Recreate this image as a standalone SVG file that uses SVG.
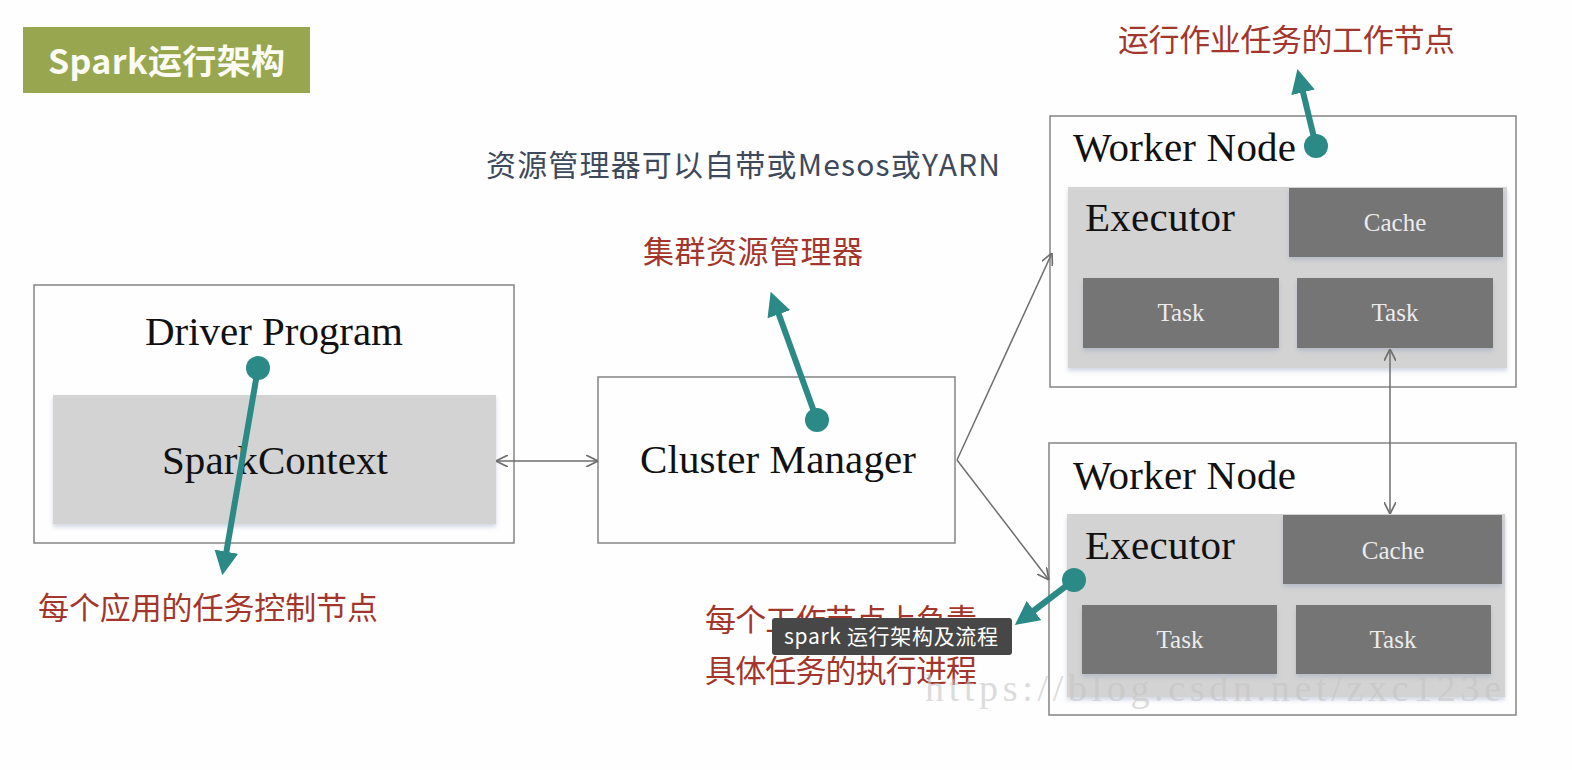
<svg xmlns="http://www.w3.org/2000/svg" width="1572" height="770" viewBox="0 0 1572 770">
<defs>
<style>
.box{fill:#fefefe;stroke:#8c8c8c;stroke-width:1.6}
.exe{fill:#d3d3d3}
.dark{fill:#757575}
.serif{font-family:"Liberation Serif","Times New Roman",serif;fill:#111}
.light{font-family:"Liberation Serif","Times New Roman",serif;fill:#ececec;font-size:25px;text-anchor:middle}
.red{font-family:"Noto Sans CJK SC",sans-serif;fill:#a3362c;font-size:31px}
.conn{stroke:#6e6e6e;stroke-width:1.5;fill:none}
.teal{stroke:#2b8a86;stroke-width:6;fill:none}
</style>
<marker id="open" viewBox="0 0 10 10" refX="10" refY="5" markerWidth="12" markerHeight="12" markerUnits="userSpaceOnUse" orient="auto-start-reverse">
<path d="M0,0 L10,5 L0,10" fill="none" stroke="#6e6e6e" stroke-width="1.4"/>
</marker>
<marker id="tealhead" viewBox="0 0 10 10" refX="1" refY="5" markerWidth="24" markerHeight="24" markerUnits="userSpaceOnUse" orient="auto">
<path d="M0,0 L10,5 L0,10 z" fill="#2b8a86"/>
</marker>
<filter id="sh" x="-5%" y="-5%" width="115%" height="130%">
<feDropShadow dx="0" dy="3" stdDeviation="2" flood-color="#8090b0" flood-opacity="0.35"/>
</filter>
</defs>
<rect width="1572" height="770" fill="#fefefe"/>

<g id="title">
<rect x="23" y="27" width="287" height="66" fill="#98a74f"/>
<text x="48" y="74" font-family="Noto Sans CJK SC,sans-serif" font-weight="bold" font-size="34" fill="#fbfbf4" textLength="237">Spark运行架构</text>
</g>

<g id="note-resource">
<text x="486" y="176" font-family="Noto Sans CJK SC,sans-serif" font-size="30" fill="#3e4a5c" textLength="514">资源管理器可以自带或Mesos或YARN</text>
</g>

<g id="driver">
<rect class="box" x="34" y="285" width="480" height="258"/>
<text class="serif" x="274" y="345" font-size="41" text-anchor="middle" textLength="258">Driver Program</text>
<rect class="exe" x="53" y="395" width="443" height="129" filter="url(#sh)"/>
<text class="serif" x="275" y="474" font-size="41" text-anchor="middle" textLength="226">SparkContext</text>
</g>

<g id="cluster">
<rect class="box" x="598" y="377" width="357" height="166"/>
<text class="serif" x="778" y="473" font-size="41" text-anchor="middle" textLength="276">Cluster Manager</text>
</g>

<g id="worker1">
<rect class="box" x="1050" y="116" width="466" height="271"/>
<text class="serif" x="1073" y="161" font-size="41" textLength="223">Worker Node</text>
<rect class="exe" x="1068" y="187" width="439" height="181" filter="url(#sh)"/>
<text class="serif" x="1085" y="231" font-size="41" textLength="150">Executor</text>
<rect class="dark" x="1289" y="188" width="214" height="69" filter="url(#sh)"/>
<text class="light" x="1395" y="231">Cache</text>
<rect class="dark" x="1083" y="278" width="196" height="70" filter="url(#sh)"/>
<text class="light" x="1181" y="321">Task</text>
<rect class="dark" x="1297" y="278" width="196" height="70" filter="url(#sh)"/>
<text class="light" x="1395" y="321">Task</text>
</g>

<g id="worker2">
<rect class="box" x="1049" y="443" width="467" height="272"/>
<text class="serif" x="1073" y="489" font-size="41" textLength="223">Worker Node</text>
<rect class="exe" x="1067" y="514" width="438" height="183" filter="url(#sh)"/>
<text class="serif" x="1085" y="559" font-size="41" textLength="150">Executor</text>
<rect class="dark" x="1283" y="515" width="219" height="69" filter="url(#sh)"/>
<text class="light" x="1393" y="559">Cache</text>
<rect class="dark" x="1082" y="605" width="195" height="69" filter="url(#sh)"/>
<text class="light" x="1180" y="648">Task</text>
<rect class="dark" x="1296" y="605" width="195" height="69" filter="url(#sh)"/>
<text class="light" x="1393" y="648">Task</text>
</g>

<g id="connectors">
<line class="conn" x1="496" y1="461" x2="598" y2="461" marker-start="url(#open)" marker-end="url(#open)"/>
<line class="conn" x1="957" y1="460" x2="1052" y2="253" marker-end="url(#open)"/>
<line class="conn" x1="957" y1="460" x2="1049" y2="580" marker-end="url(#open)"/>
<line class="conn" x1="1390" y1="349" x2="1390" y2="514" marker-start="url(#open)" marker-end="url(#open)"/>
</g>

<g id="annotations">
<line class="teal" x1="258" y1="368" x2="226" y2="554" marker-end="url(#tealhead)"/>
<circle cx="258" cy="368" r="12" fill="#2b8a86"/>
<line class="teal" x1="817" y1="420" x2="778" y2="312" marker-end="url(#tealhead)"/>
<circle cx="817" cy="420" r="12" fill="#2b8a86"/>
<line class="teal" x1="1316" y1="146" x2="1302.5" y2="90" marker-end="url(#tealhead)"/>
<circle cx="1316" cy="146" r="12" fill="#2b8a86"/>
<line class="teal" x1="1074" y1="580" x2="1032" y2="612" marker-end="url(#tealhead)"/>
<circle cx="1074" cy="580" r="12" fill="#2b8a86"/>
</g>

<g id="labels">
<text class="red" x="38" y="619" textLength="340">每个应用的任务控制节点</text>
<text class="red" x="643" y="263" textLength="220">集群资源管理器</text>
<text class="red" x="1118" y="51" textLength="337">运行作业任务的工作节点</text>
<text class="red" x="705" y="631" textLength="272">每个工作节点上负责</text>
<text class="red" x="705" y="682" textLength="272">具体任务的执行进程</text>
</g>

<g id="watermark">
<text x="925" y="701" font-family="Liberation Serif,serif" font-size="38" fill="#c4c4c4" fill-opacity="0.6" textLength="576">https://blog.csdn.net/zxc123e</text>
</g>

<g id="tooltip">
<rect x="772" y="618" width="240" height="37" rx="3" fill="#474747"/>
<text x="784" y="644" font-family="Noto Sans CJK SC,sans-serif" font-size="21" fill="#ffffff" textLength="214">spark 运行架构及流程</text>
</g>
</svg>
